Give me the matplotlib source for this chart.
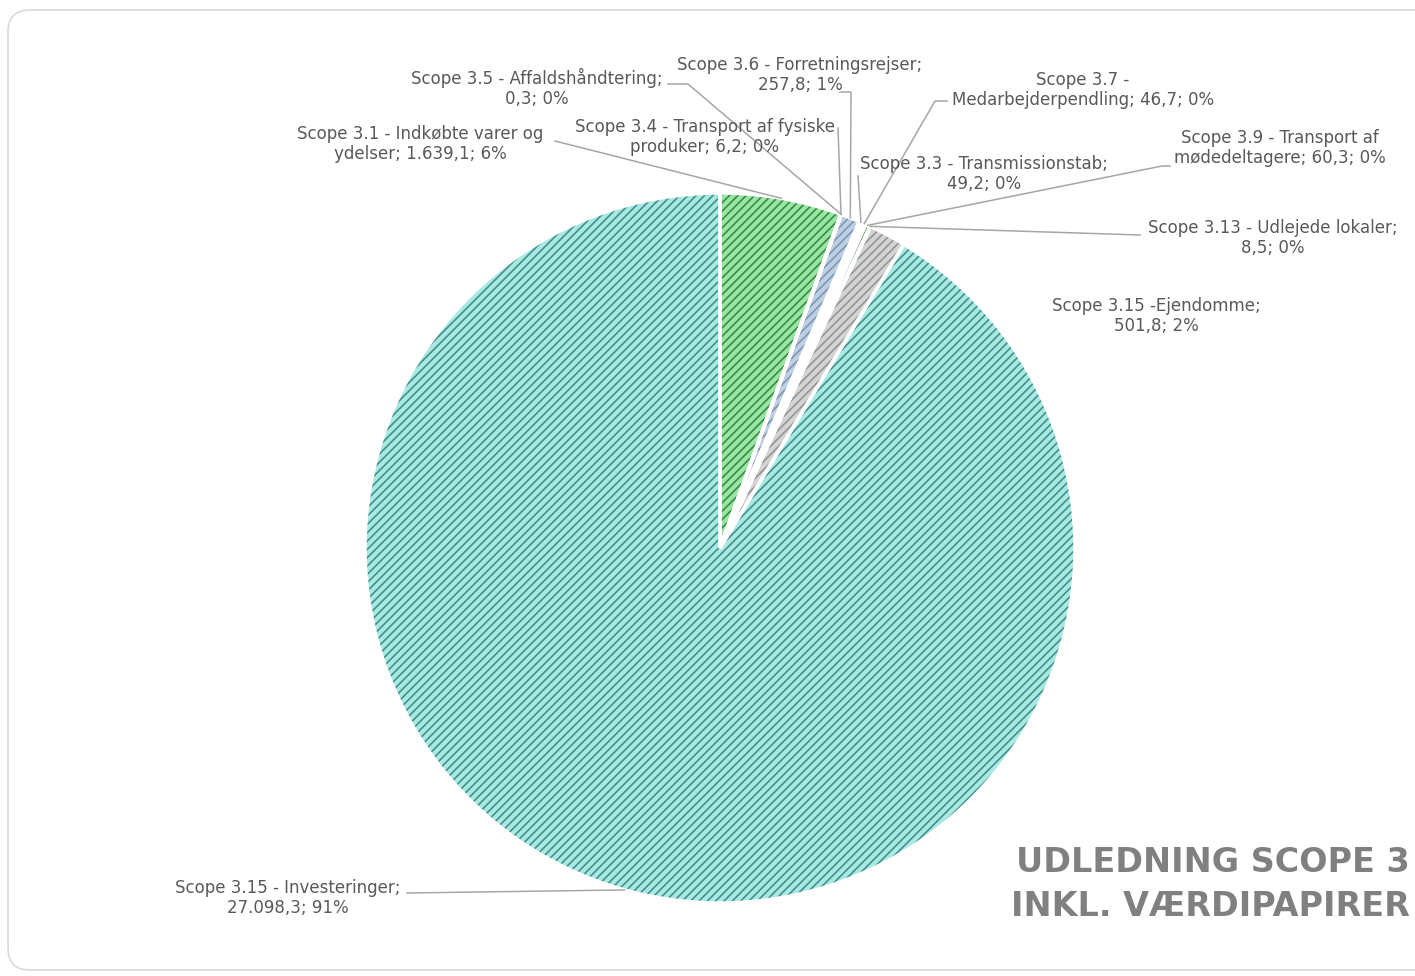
import numpy as np
import matplotlib.pyplot as plt
from matplotlib.patches import FancyBboxPatch

W, H = 1415, 976

names = ["Scope 3.1 - Indkøbte varer og\nydelser", "Scope 3.4 - Transport af fysiske\nproduker",
         "Scope 3.5 - Affaldshåndtering", "Scope 3.6 - Forretningsrejser",
         "Scope 3.3 - Transmissionstab", "Scope 3.7 -\nMedarbejderpendling",
         "Scope 3.9 - Transport af\nmødedeltagere", "Scope 3.13 - Udlejede lokaler",
         "Scope 3.15 -Ejendomme", "Scope 3.15 - Investeringer"]
values = [1639.1, 6.2, 0.3, 257.8, 49.2, 46.7, 60.3, 8.5, 501.8, 27098.3]
break_after_name = [False, False, True, True, True, False, False, True, True, True]
faces = ["#97e6a2", "#3f8f4a", "#3f8f4a", "#bdd0e3", "#3f8f4a", "#3f8f4a", "#3f8f4a", "#3f8f4a", "#d4d4d4", "#a9e9e3"]
hatches = ["#3d8a47", "#2e6e37", "#2e6e37", "#7f98b2", "#2e6e37", "#2e6e37", "#2e6e37", "#2e6e37", "#959595", "#448f8a"]

# label block centres (image px) and leader start / elbow points
label_xy = [(420, 144), (705, 137), (537, 88), (800, 75), (984, 174), (1083, 90),
            (1280, 148), (1273, 238), (1156, 316), (288, 898)]
leaders = [[(555, 141)], [(838, 128)], [(668, 84), (688, 84)], [(840, 92), (851, 92)],
           [(858, 176)], [(947, 101), (935, 101)], [(1170, 166), (1162, 166)],
           [(1140, 235)], None, [(407, 893)]]


def fmt(v):
    s = f"{v:,.1f}"
    return s.replace(",", "X").replace(".", ",").replace("X", ".")


total = sum(values)
fig = plt.figure(figsize=(W / 100, H / 100), dpi=100)
ax = fig.add_axes([0, 0, 1, 1])
plt.rcParams['hatch.linewidth'] = 1.2

cx, cy, r = 720, H - 548, 355
wedges, _ = ax.pie(values, colors=faces, startangle=90, counterclock=False,
                   center=(cx, cy), radius=r, wedgeprops=dict(linewidth=0))
hatch_w, _ = ax.pie(values, colors=["none"] * len(values), startangle=90, counterclock=False,
                    center=(cx, cy), radius=r, wedgeprops=dict(linewidth=0, hatch="////"))
for w, hc in zip(hatch_w, hatches):
    w.set_edgecolor(hc)
    w.set_linewidth(0)
ax.pie(values, colors=["none"] * len(values), startangle=90, counterclock=False,
       center=(cx, cy), radius=r, wedgeprops=dict(linewidth=2.5, edgecolor="white"))

ax.set_xlim(0, W)
ax.set_ylim(0, H)
ax.set_aspect('equal')
ax.axis('off')

ax.add_patch(FancyBboxPatch((8, 6), W + 40, H - 16, boxstyle="round,pad=0,rounding_size=22",
                            facecolor="none", edgecolor="#d9d9d9", linewidth=1.2, zorder=0))

for i, w in enumerate(wedges):
    pct = round(values[i] / total * 100)
    sep = ";\n" if break_after_name[i] else "; "
    txt = f"{names[i]}{sep}{fmt(values[i])}; {pct}%"
    lx, ly = label_xy[i]
    ax.text(lx, H - ly, txt, ha="center", va="center", fontsize=12, family="DejaVu Sans",
            color="#595959", linespacing=1.2)
    if leaders[i] is not None:
        ang = np.deg2rad((w.theta1 + w.theta2) / 2)
        ax_, ay_ = cx + r * np.cos(ang), cy + r * np.sin(ang)
        xs = [p[0] for p in leaders[i]] + [ax_]
        ys = [H - p[1] for p in leaders[i]] + [ay_]
        ax.plot(xs, ys, color="#a6a6a6", linewidth=1.1)

ax.text(1410, H - 862, "UDLEDNING SCOPE 3", ha="right", va="center", fontsize=24,
        family="DejaVu Sans", fontweight="bold", color="#808080")
ax.text(1410, H - 907, "INKL. VÆRDIPAPIRER", ha="right", va="center", fontsize=24,
        family="DejaVu Sans", fontweight="bold", color="#808080")

plt.savefig("out.png", dpi=100)
